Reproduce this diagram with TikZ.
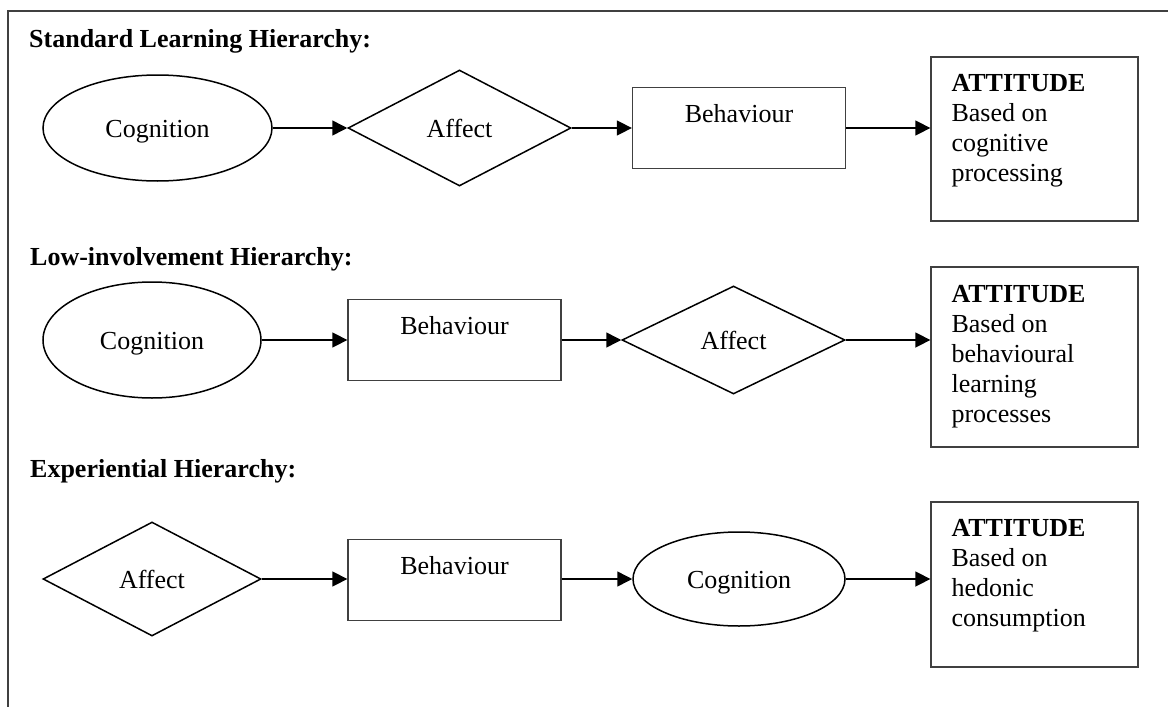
\documentclass[tikz,border=0pt]{standalone}
\usepackage{fontspec}
\setmainfont{Liberation Serif}
\usetikzlibrary{shapes.geometric,arrows.meta,calc}
\begin{document}
\begin{tikzpicture}[x=1pt,y=-1pt,
  every node/.style={font=\fontsize{26}{30}\selectfont, inner sep=0pt},
  heading/.style={font=\fontsize{26}{30}\selectfont\bfseries, anchor=base west},
  oval/.style={ellipse, draw=black, line width=1.5pt, text height=18pt, text depth=0pt},
  rhomb/.style={diamond, draw=black, line width=1.5pt, text height=18pt, text depth=0pt},
  actbox/.style={rectangle, draw=black!75, line width=1.3pt, minimum width=213pt,
                 text height=35pt, text depth=46pt},
  attbox/.style={rectangle, draw=black!75, line width=1.3pt, minimum width=207pt},
  atttext/.style={anchor=north west, align=left},
  arr/.style={draw=black, line width=1.5pt, -{Triangle[length=15pt,width=15pt]}}
]
\useasboundingbox (0,0) rectangle (1168,707);

% outer frame
\draw[black!75, line width=1.3pt] (1172,11) -- (8,11) -- (8,711);

% ---- Standard learning hierarchy ----
\node[heading] (h1) at (29,47) {Standard Learning Hierarchy:};
\node[oval, minimum width=229pt, minimum height=106pt] (cog1) at (157.5,128) {Cognition};
\node[rhomb, minimum width=223pt, minimum height=116pt] (aff1) at (459.5,128) {Affect};
\node[actbox] (beh1) at (739,128) {Behaviour};
\node[attbox, minimum height=164pt] (att1) at (1034.5,139) {};
\node[atttext] (txt1) at ($(att1.north west)+(21,18)$)
  {\textbf{ATTITUDE}\\Based on\\cognitive\\processing};
\draw[arr] (cog1.east) -- (aff1.west);
\draw[arr] (aff1.east) -- (beh1.west);
\draw[arr] (beh1.east) -- (beh1.east -| att1.west);

% ---- Low-involvement hierarchy ----
\node[heading] (h2) at (30,265) {Low-involvement Hierarchy:};
\node[oval, minimum width=218pt, minimum height=116pt] (cog2) at (152,340) {Cognition};
\node[actbox] (beh2) at (454.5,340) {Behaviour};
\node[rhomb, minimum width=223pt, minimum height=108pt] (aff2) at (733.5,340) {Affect};
\node[attbox, minimum height=180pt] (att2) at (1034.5,357) {};
\node[atttext] (txt2) at ($(att2.north west)+(21,19)$)
  {\textbf{ATTITUDE}\\Based on\\behavioural\\learning\\processes};
\draw[arr] (cog2.east) -- (beh2.west);
\draw[arr] (beh2.east) -- (aff2.west);
\draw[arr] (aff2.east) -- (aff2.east -| att2.west);

% ---- Experiential hierarchy ----
\node[heading] (h3) at (30,477) {Experiential Hierarchy:};
\node[rhomb, minimum width=218pt, minimum height=114pt] (aff3) at (152,579) {Affect};
\node[actbox] (beh3) at (454.5,580) {Behaviour};
\node[oval, minimum width=212pt, minimum height=94pt] (cog3) at (739,579) {Cognition};
\node[attbox, minimum height=165pt] (att3) at (1034.5,584.5) {};
\node[atttext] (txt3) at ($(att3.north west)+(21,18)$)
  {\textbf{ATTITUDE}\\Based on\\hedonic\\consumption};
\draw[arr] (aff3.east) -- (aff3.east -| beh3.west);
\draw[arr] (beh3.east |- cog3.west) -- (cog3.west);
\draw[arr] (cog3.east) -- (cog3.east -| att3.west);
\end{tikzpicture}
\end{document}
